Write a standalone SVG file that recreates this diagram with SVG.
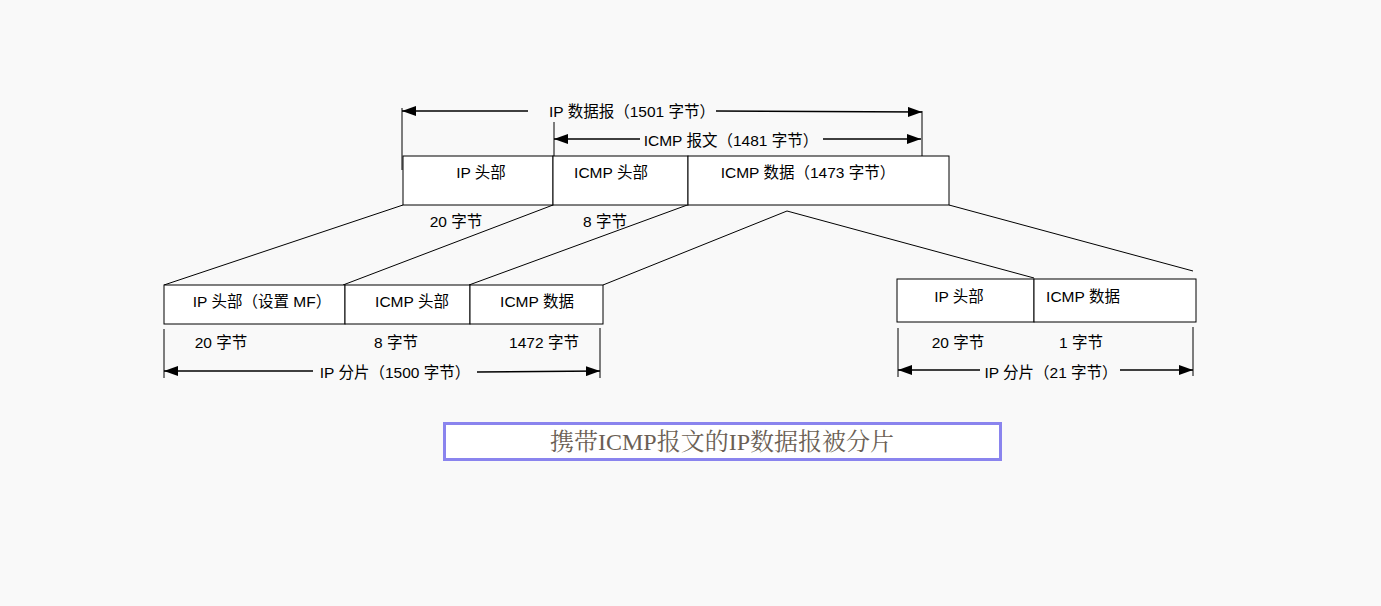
<svg xmlns="http://www.w3.org/2000/svg" width="1381" height="606" viewBox="0 0 1381 606">
<style>
.bg{fill:#f9f9f9}
.box{fill:#ffffff;stroke:#000;stroke-width:1}
.ln{stroke:#000;stroke-width:1;fill:none}
.ar{stroke:#000;stroke-width:1.5;fill:none}
.t{font-family:"Liberation Sans","Noto Sans CJK SC",sans-serif;font-size:15.5px;fill:#000;text-anchor:middle}
.title{font-family:"Liberation Serif","Noto Serif CJK SC","Noto Sans CJK SC",serif;font-size:24px;fill:#6b5f55;text-anchor:middle}
</style>
<defs>
<marker id="ah" viewBox="0 0 14 10" refX="14" refY="5" markerWidth="14" markerHeight="10" markerUnits="userSpaceOnUse" orient="auto-start-reverse">
<path d="M0,0 L14,5 L0,10 Z" fill="#000"/>
</marker>
</defs>
<rect class="bg" x="0" y="0" width="1381" height="606"/>

<g id="connectors">
<line class="ln" x1="402" y1="108" x2="402" y2="170"/>
<line class="ln" x1="922" y1="111" x2="922" y2="156"/>
<line class="ln" x1="554" y1="122" x2="554" y2="156"/>
<line class="ar" x1="402" y1="111" x2="528" y2="111" marker-start="url(#ah)"/>
<line class="ar" x1="716" y1="111" x2="922" y2="112" marker-end="url(#ah)"/>
<line class="ar" x1="554" y1="139" x2="640" y2="139" marker-start="url(#ah)"/>
<line class="ar" x1="823" y1="139" x2="921" y2="139" marker-end="url(#ah)"/>

<line class="ln" x1="403" y1="205" x2="164" y2="285"/>
<line class="ln" x1="553" y1="205" x2="343" y2="285"/>
<line class="ln" x1="690" y1="204" x2="469" y2="285"/>
<line class="ln" x1="787" y1="211" x2="603" y2="285"/>
<line class="ln" x1="787" y1="211" x2="1034" y2="278"/>
<line class="ln" x1="949" y1="205" x2="1193" y2="271"/>

<line class="ln" x1="164" y1="329" x2="164" y2="378"/>
<line class="ln" x1="600" y1="328" x2="600" y2="378"/>
<line class="ar" x1="164" y1="371" x2="313" y2="371" marker-start="url(#ah)"/>
<line class="ar" x1="477" y1="372" x2="600" y2="371" marker-end="url(#ah)"/>

<line class="ln" x1="898" y1="328" x2="898" y2="377"/>
<line class="ln" x1="1193" y1="327" x2="1193" y2="376"/>
<line class="ar" x1="898" y1="370" x2="980" y2="370" marker-start="url(#ah)"/>
<line class="ar" x1="1120" y1="370" x2="1193" y2="370" marker-end="url(#ah)"/>
</g>

<g id="label-ip-datagram"><text class="t" x="632" y="117">IP 数据报（1501 字节）</text></g>
<g id="label-icmp-msg"><text class="t" x="731" y="146">ICMP 报文（1481 字节）</text></g>

<g id="orig-ip-header">
<rect class="box" x="403" y="156" width="150" height="49"/>
<text class="t" x="481" y="178">IP 头部</text>
<text class="t" x="456" y="227">20 字节</text>
</g>
<g id="orig-icmp-header">
<rect class="box" x="553" y="156" width="135" height="49"/>
<text class="t" x="611" y="178">ICMP 头部</text>
<text class="t" x="605" y="227">8 字节</text>
</g>
<g id="orig-icmp-data">
<rect class="box" x="688" y="156" width="261" height="49"/>
<text class="t" x="808" y="178">ICMP 数据（1473 字节）</text>
</g>

<g id="frag1-ip-header">
<rect class="box" x="164" y="285" width="181" height="39"/>
<text class="t" x="262" y="307">IP 头部（设置 MF）</text>
<text class="t" x="221" y="348">20 字节</text>
</g>
<g id="frag1-icmp-header">
<rect class="box" x="345" y="285" width="125" height="39"/>
<text class="t" x="412" y="307">ICMP 头部</text>
<text class="t" x="396" y="348">8 字节</text>
</g>
<g id="frag1-icmp-data">
<rect class="box" x="470" y="285" width="133" height="39"/>
<text class="t" x="537" y="307">ICMP 数据</text>
<text class="t" x="544" y="348">1472 字节</text>
</g>
<g id="label-frag1"><text class="t" x="395" y="378">IP 分片（1500 字节）</text></g>

<g id="frag2-ip-header">
<rect class="box" x="897" y="279" width="137" height="43"/>
<text class="t" x="959" y="302">IP 头部</text>
<text class="t" x="958" y="348">20 字节</text>
</g>
<g id="frag2-icmp-data">
<rect class="box" x="1034" y="279" width="162" height="43"/>
<text class="t" x="1083" y="302">ICMP 数据</text>
<text class="t" x="1081" y="348">1 字节</text>
</g>
<g id="label-frag2"><text class="t" x="1051" y="378">IP 分片（21 字节）</text></g>

<g id="title">
<rect x="444.5" y="423.5" width="556" height="36" fill="#ffffff" stroke="#8a84ee" stroke-width="3"/>
<text class="title" x="722" y="450">携带ICMP报文的IP数据报被分片</text>
</g>
</svg>
